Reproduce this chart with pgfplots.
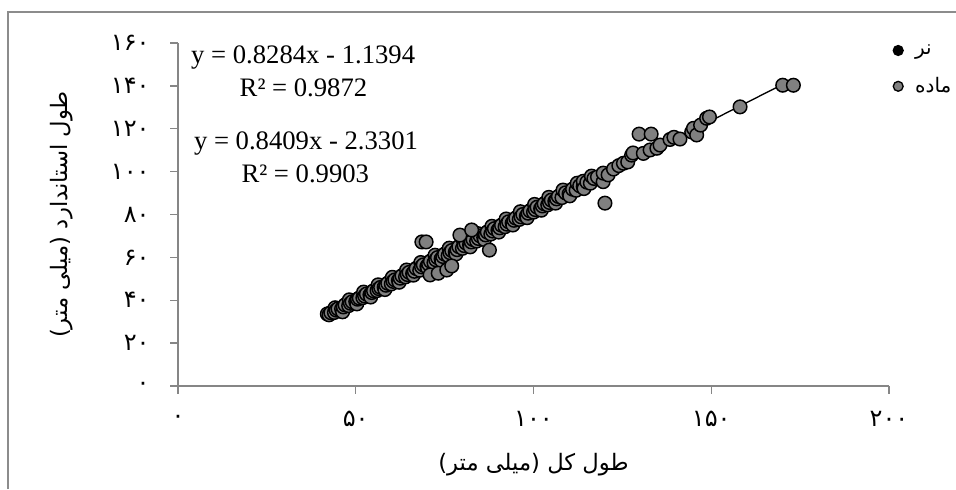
\documentclass[border=0pt]{standalone}
\usepackage{fontspec}
\setmainfont{Liberation Serif}
\newfontfamily\arabicfont[Script=Arabic]{DejaVu Sans}
\TeXXeTstate=1
\usepackage{pgfplots}
\usepackage{pgfplotstable}
\pgfplotsset{compat=1.18}
\usetikzlibrary{calc}
\definecolor{axisgray}{HTML}{868686}
\definecolor{bordergray}{HTML}{8C8C8C}
\definecolor{femgray}{HTML}{808080}

\pgfplotstableread{
x y
42 33.6
42.5 33.2
43 34.2
44 34.3
44.2 36.5
44.5 35.4
45 36.0
46 36.0
46.3 34.6
46.5 36.9
47 37.8
48 37.5
48.2 40.2
48.5 38.6
49 39.3
50 39.4
50.3 38.3
50.5 40.5
51 41.0
52 41.2
52.2 43.8
52.5 42.0
53 42.9
54 42.6
54.2 41.5
54.5 43.6
55 44.4
56 44.5
56.3 47.2
56.5 45.4
57 46.0
58 46.1
58.2 45.0
58.5 47.0
59 47.9
60 47.6
60.3 50.7
60.5 48.8
61 49.5
62 49.3
62.2 48.4
62.5 50.3
63 51.4
64 50.9
64.3 54.1
64.5 52.0
65 53.0
66 52.5
66.2 51.7
66.5 53.5
67 54.8
68 54.0
68.3 57.6
68.5 55.6
69 56.5
70 55.8
70.2 55.0
70.5 56.9
71 58.2
72 57.5
72.3 61.0
72.5 58.9
73 59.9
74 59.3
74.2 58.3
74.5 60.4
75 61.5
76 60.8
76.3 64.3
76.5 62.2
77 63.2
78 62.5
78.2 61.6
78.5 63.6
79 65.0
80 64.2
80.3 67.7
80.5 65.5
81 66.7
82 65.9
82.2 64.9
82.5 67.2
83 68.3
84 67.6
84.3 71.1
84.5 68.8
85 70.0
86 69.3
86.2 68.3
86.5 70.5
87 71.8
88 70.9
88.3 74.5
88.5 72.3
89 73.4
90 72.7
90.2 71.8
90.5 73.8
91 75.0
92 74.3
92.3 77.9
92.5 75.5
93 76.6
94 76.0
94.2 75.1
94.5 77.3
95 78.3
96 77.7
96.3 81.3
96.5 78.9
97 80.0
98 79.3
98.2 78.5
98.5 80.6
99 81.7
100 81.1
100.3 84.7
100.5 82.3
101 83.4
102 82.8
102.2 82.0
102.5 84.0
103 85.0
104 84.5
104.3 88.0
104.5 85.6
105 86.7
106 86.2
106.2 85.3
106.5 87.3
107 88.4
108 87.9
108.3 91.4
109 90.1
110 89.6
110.2 88.7
111 91.8
112 91.3
112.3 94.6
113 93.4
114 93.0
114 95.5
114.2 92.1
115 95.1
116 94.6
116.3 97.9
117 96.8
118 97.5
119.6 95.3
119.6 99.3
120.1 85.3
121 98.5
122.5 101.2
124 102.8
125.3 103.9
126.5 104.5
127.6 107.7
128 108.7
129.7 117.5
133.1 117.5
130.9 108.5
132.8 110.1
134.7 110.9
135.6 112.4
138.4 115.0
139.5 116.0
141.2 115.2
144.5 118.5
145.0 120.2
145.9 117.1
147.0 121.7
148.7 124.9
149.5 125.5
158.1 130.2
170.1 140.3
173.1 140.3
68.6 67.2
69.8 67.2
70.9 51.8
73.2 52.6
75.6 54.1
77.0 56.0
87.6 63.4
79.3 70.4
82.6 72.8
}\female

\pgfplotstableread{
x y
43 34.2
45 36.0
47 37.8
49 39.3
51 41.0
53 42.9
55 44.4
57 46.0
59 47.9
61 49.5
63 51.4
65 53.0
67 54.8
69 56.5
71 58.2
73 59.9
75 61.5
77 63.2
79 65.0
81 66.7
83 68.3
85 70.0
87 71.8
89 73.4
91 75.0
93 76.6
95 78.3
97 80.0
99 81.7
101 83.4
103 85.0
105 86.7
107 88.4
109 90.1
111 91.8
113 93.4
}\male

\begin{document}
\begin{tikzpicture}
\begin{axis}[
  name=ax,
  scale only axis,
  width=533.25pt, height=257.25pt,
  xmin=0, xmax=200, ymin=0, ymax=160,
  axis x line*=bottom, axis y line*=left,
  axis line style={draw=axisgray, line width=1pt},
  tick style={draw=axisgray, line width=1pt},
  tick align=outside,
  major tick length=5.75pt,
  xtick={0,50,100,150,200},
  xticklabels={{۰},{۵۰},{۱۰۰},{۱۵۰},{۲۰۰}},
  ytick={0,20,40,60,80,100,120,140,160},
  yticklabels={{۰},{۲۰},{۴۰},{۶۰},{۸۰},{۱۰۰},{۱۲۰},{۱۴۰},{۱۶۰}},
  xticklabel style={font=\arabicfont\fontsize{18}{21}\selectfont, anchor=center, yshift=-19pt},
  yticklabel style={font=\arabicfont\fontsize{18}{21}\selectfont, anchor=east, xshift=-12pt},
  xlabel={\arabicfont\beginR طول کل (میلی متر)\endR},
  ylabel={\arabicfont\beginR طول استاندارد (میلی متر)\endR},
  xlabel style={font=\fontsize{17}{20}\selectfont, at={(axis description cs:0.5,0)}, anchor=center, yshift=-59pt},
  ylabel style={font=\fontsize{17}{20}\selectfont, at={(axis description cs:0,0.5)}, anchor=center, yshift=87pt},
  legend style={at={(axis description cs:1,1)}, anchor=north west, xshift=0pt, yshift=3pt,
    draw=none, fill=none, font=\arabicfont\fontsize{15}{18}\selectfont, row sep=12pt},
  legend cell align=left,
  clip=false,
]
\addplot[only marks, mark=*, mark size=5.1pt, mark options={fill=black, draw=black, line width=1.1pt},
  legend image code/.code={\draw[mark size=3.7pt, mark options={fill=black, draw=black, line width=1pt}] plot[mark=*] coordinates {(0.3cm,0cm)};}]
  table[x=x, y=y] {\male};
\addlegendentry{\hspace{7pt}\beginR نر\endR}
\addplot[only marks, mark=*, mark size=5.1pt, mark options={fill=femgray, draw=black, line width=1.1pt},
  legend image code/.code={\draw[mark size=3.7pt, mark options={fill=femgray, draw=black, line width=1pt}] plot[mark=*] coordinates {(0.3cm,0cm)};}]
  table[x=x, y=y] {\female};
\addlegendentry{\hspace{7pt}\beginR ماده\endR}
\addplot[black, line width=1pt, forget plot] coordinates {(42,33.65) (118,96.61)};
\addplot[black, line width=1pt, forget plot] coordinates {(42,32.99) (173,143.15)};
\node[font=\fontsize{20}{23}\selectfont] at (axis cs:35.2,153.0) {y = 0.8284x - 1.1394};
\node[font=\fontsize{20}{23}\selectfont] at (axis cs:35.3,139.0) {R² = 0.9872};
\node[font=\fontsize{20}{23}\selectfont] at (axis cs:36.0,113.2) {y = 0.8409x - 2.3301};
\node[font=\fontsize{20}{23}\selectfont] at (axis cs:35.8,99.2) {R² = 0.9903};
\end{axis}
\draw[bordergray, line width=1.1pt] ($(ax.south west)+(-127.5pt,-77.25pt)$) -- ($(ax.north west)+(-127.5pt,23.25pt)$) -- ($(ax.north east)+(50.25pt,23.25pt)$);
\pgfresetboundingbox
\path[use as bounding box] ($(ax.south west)+(-133.5pt,-77.25pt)$) rectangle ($(ax.north east)+(50.25pt,32.25pt)$);
\end{tikzpicture}
\end{document}
